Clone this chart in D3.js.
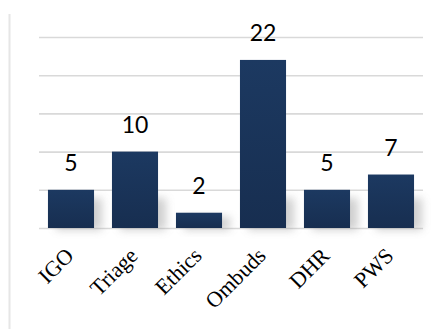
<!DOCTYPE html>
<html>
<head>
<meta charset="utf-8">
<script src="https://cdn.jsdelivr.net/npm/d3@7"></script>
<style>
  html, body { margin: 0; padding: 0; background: #fff; }
  svg { display: block; }
</style>
</head>
<body>
<script>
// Case counts by office
const categories = ["IGO", "Triage", "Ethics", "Ombuds", "DHR", "PWS"];
const values = [5, 10, 2, 22, 5, 7];
const yTicks = [0, 5, 10, 15, 20, 25];

const W = 438, H = 329;
const margin = { top: 37, right: 15, bottom: 101, left: 39 };

const svg = d3.select("body").append("svg")
  .attr("width", W).attr("height", H);

const defs = svg.append("defs");
const grad = defs.append("linearGradient")
  .attr("id", "barFill").attr("x1", 0).attr("y1", 0).attr("x2", 0).attr("y2", 1);
grad.append("stop").attr("offset", "0%").attr("stop-color", "#1c3961");
grad.append("stop").attr("offset", "100%").attr("stop-color", "#172e50");

const blur = defs.append("filter").attr("id", "soft")
  .attr("x", "-50%").attr("y", "-50%").attr("width", "200%").attr("height", "200%");
blur.append("feGaussianBlur").attr("stdDeviation", 4);

const x = d3.scaleBand()
  .domain(categories)
  .range([margin.left, W - margin.right])
  .paddingInner(0.28)
  .paddingOuter(0.14);

const y = d3.scaleLinear()
  .domain([0, 25])
  .range([H - margin.bottom, margin.top]);

// left frame line
svg.append("line")
  .attr("x1", 9.5).attr("x2", 9.5)
  .attr("y1", 14).attr("y2", H)
  .attr("stroke", "#e6e6e6").attr("stroke-width", 2);

// horizontal gridlines
const yAxis = d3.axisLeft(y).tickValues(yTicks)
  .tickSize(-(W - margin.right - margin.left)).tickFormat("");
const gy = svg.append("g")
  .attr("transform", `translate(${margin.left},0)`)
  .call(yAxis);
gy.select(".domain").remove();
gy.selectAll(".tick line")
  .attr("stroke", "#d9d9d9").attr("stroke-width", 1.6);

const data = categories.map((c, i) => ({ c, v: values[i] }));

// soft shadows to the lower right of each bar
svg.append("g").selectAll("rect")
  .data(data).join("rect")
  .attr("x", d => x(d.c) + 8)
  .attr("width", x.bandwidth())
  .attr("y", d => Math.max(y(d.v), y(0) - 34) + 4)
  .attr("height", d => y(0) - Math.max(y(d.v), y(0) - 34) - 2)
  .attr("fill", "#8a8a8a")
  .attr("opacity", 0.4)
  .attr("filter", "url(#soft)");

// bars
svg.append("g").selectAll("rect")
  .data(data).join("rect")
  .attr("x", d => x(d.c))
  .attr("width", x.bandwidth())
  .attr("y", d => y(d.v))
  .attr("height", d => y(0) - y(d.v))
  .attr("fill", "url(#barFill)");

// value labels
svg.append("g").selectAll("text")
  .data(data).join("text")
  .attr("x", d => x(d.c) + x.bandwidth() / 2)
  .attr("y", d => y(d.v) - 19)
  .attr("text-anchor", "middle")
  .attr("font-family", "Lato, 'Open Sans', sans-serif")
  .attr("font-size", 23)
  .attr("fill", "#000")
  .text(d => d.v);

// category axis
const xAxis = d3.axisBottom(x).tickSize(0).tickPadding(0);
const gx = svg.append("g")
  .attr("transform", `translate(0,${y(0)})`)
  .call(xAxis);
gx.select(".domain").remove();
gx.selectAll(".tick text")
  .attr("font-family", "'Liberation Serif', 'Times New Roman', serif")
  .attr("font-size", 22)
  .attr("fill", "#000")
  .attr("text-anchor", "end")
  .attr("dy", 0)
  .attr("y", 0)
  .attr("transform", "translate(4,29) rotate(-45)");
</script>
</body>
</html>
